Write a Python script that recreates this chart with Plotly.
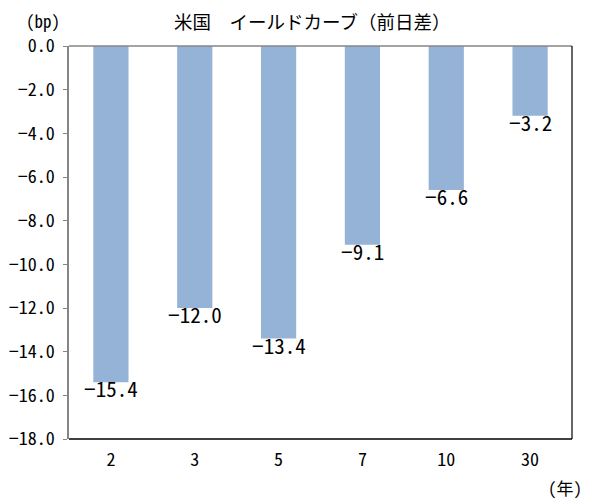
import plotly.graph_objects as go

# 米国イールドカーブ 前日差 (bp)
maturities = ["2", "3", "5", "7", "10", "30"]
changes = [-15.4, -12.0, -13.4, -9.1, -6.6, -3.2]
y_ticks = [0, -2, -4, -6, -8, -10, -12, -14, -16, -18]

font_jp = "Noto Sans Mono CJK JP, Noto Sans CJK JP, Liberation Mono"

fig = go.Figure(go.Bar(
    x=maturities,
    y=changes,
    marker=dict(color="#95B3D7", line=dict(width=0)),
    width=0.42,
    hoverinfo="x+y",
))

# data labels just under each bar end (category index as x position)
for i, v in enumerate(changes):
    fig.add_annotation(x=i, y=v, text=f"{v:.1f}".replace("-", "−"),
                       showarrow=False, yanchor="middle", yshift=-6,
                       font=dict(family=font_jp, size=21, color="black"))

# the page is drawn with an 8px body margin, so the figure is 8px smaller
fig.update_layout(
    width=594,
    height=494,
    margin=dict(l=61, r=30, t=38, b=63),
    paper_bgcolor="white",
    plot_bgcolor="white",
    showlegend=False,
    font=dict(family=font_jp, size=18, color="black"),
)

fig.update_yaxes(
    range=[-18, 0],
    tickvals=y_ticks,
    tickformat=".1f",
    ticks="outside",
    ticklen=4,
    tickcolor="#868686",
    ticklabelstandoff=5,
    automargin=False,
    showgrid=False,
    zeroline=False,
    showline=True,
    linecolor="#868686",
    linewidth=1.5,
    tickfont=dict(size=18),
)
fig.update_xaxes(
    type="category",
    range=[-0.5, len(maturities) - 0.5],
    automargin=False,
    ticklabelstandoff=8,
    showgrid=False,
    showline=False,
    ticks="",
    tickfont=dict(size=18),
)

# frame: grey top edge (zero line), black right and bottom edges
fig.add_shape(type="line", xref="paper", yref="paper", x0=0, x1=1, y0=1, y1=1,
              line=dict(color="#868686", width=1.5))
fig.add_shape(type="line", xref="paper", yref="paper", x0=1, x1=1, y0=0, y1=1,
              line=dict(color="black", width=1.2))
fig.add_shape(type="line", xref="paper", yref="paper", x0=0, x1=1, y0=0, y1=0,
              line=dict(color="black", width=1.5))

fig.add_annotation(text="米国　イールドカーブ（前日差）", xref="paper", yref="paper",
                   x=0.483, y=1, yshift=25, showarrow=False,
                   font=dict(family="Noto Sans CJK JP", size=18.5),
                   xanchor="center", yanchor="middle")
fig.add_annotation(text="(bp)", xref="paper", yref="paper",
                   x=-0.052, y=1, yshift=26, showarrow=False,
                   font=dict(size=17), xanchor="center", yanchor="middle")
fig.add_annotation(text="(年)", xref="paper", yref="paper",
                   x=0.986, y=0, yshift=-48, showarrow=False,
                   font=dict(size=17), xanchor="center", yanchor="middle")

fig.write_html("out.html")
